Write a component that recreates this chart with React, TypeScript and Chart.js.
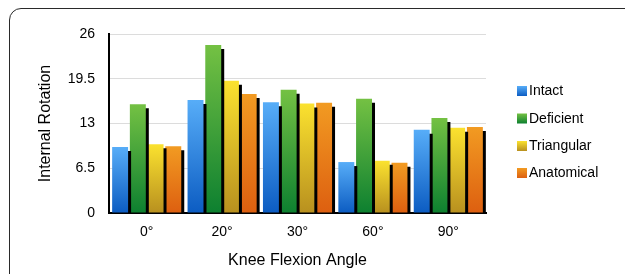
import React, { useEffect, useRef } from "react";
import { Chart, registerables } from "chart.js";

Chart.register(...registerables);

const categories = ["0°", "20°", "30°", "60°", "90°"];
const seriesNames = ["Intact", "Deficient", "Triangular", "Anatomical"];
const intact = [9.6, 16.4, 16.1, 7.4, 12.1];
const deficient = [15.8, 24.4, 17.9, 16.6, 13.8];
const triangular = [10.0, 19.2, 15.9, 7.6, 12.4];
const anatomical = [9.7, 17.3, 16.0, 7.3, 12.5];
const yTicks = [0, 6.5, 13, 19.5, 26];

const gradTop = ["#57adf8", "#74c143", "#fbe22f", "#f29b22"];
const gradBottom = ["#0c5cc2", "#0d8030", "#b8901f", "#dd5f10"];

const FONT = "'Liberation Sans', Arial, Helvetica, sans-serif";

function makeFill(idx: number) {
  return (c: any) => {
    const chart = c.chart;
    const area = chart.chartArea;
    if (!area || c.type !== "data" || !c.parsed) return gradTop[idx];
    const y = chart.scales.y;
    const yTop = y.getPixelForValue(c.parsed.y);
    const yBot = y.getPixelForValue(0);
    const g = chart.ctx.createLinearGradient(0, yTop, 0, yBot);
    g.addColorStop(0, gradTop[idx]);
    g.addColorStop(1, gradBottom[idx]);
    return g;
  };
}

const shadowPlugin = {
  id: "barShadow",
  beforeDatasetsDraw(chart: any) {
    const ctx = chart.ctx;
    ctx.save();
    ctx.shadowColor = "rgba(0,0,0,1)";
    ctx.shadowOffsetX = 3;
    ctx.shadowOffsetY = 4;
    ctx.shadowBlur = 0;
  },
  afterDatasetsDraw(chart: any) {
    chart.ctx.restore();
  },
};

const legendPlugin = {
  id: "sideLegend",
  afterDraw(chart: any) {
    const ctx = chart.ctx;
    ctx.save();
    const x = 517;
    const centers = [91, 118.5, 146, 173];
    seriesNames.forEach((name, i) => {
      const cy = centers[i];
      const g = ctx.createLinearGradient(0, cy - 5, 0, cy + 5);
      g.addColorStop(0, gradTop[i]);
      g.addColorStop(1, gradBottom[i]);
      ctx.fillStyle = g;
      ctx.fillRect(x, cy - 5, 10, 10);
      ctx.fillStyle = "#000";
      ctx.font = `14px ${FONT}`;
      ctx.textBaseline = "middle";
      ctx.textAlign = "left";
      ctx.fillText(name, x + 12, cy + 0.5);
    });
    ctx.restore();
  },
};

export default function App() {
  const ref = useRef<HTMLCanvasElement | null>(null);

  useEffect(() => {
    if (!ref.current) return;
    Chart.defaults.font.family = FONT;
    const series = [intact, deficient, triangular, anatomical];
    const chart = new Chart(ref.current, {
      type: "bar",
      data: {
        labels: categories,
        datasets: series.map((d, i) => ({
          label: seriesNames[i],
          data: d,
          backgroundColor: makeFill(i),
          borderWidth: 0,
          categoryPercentage: 0.94,
          barPercentage: 0.9,
          clip: { left: 5, top: 5, right: 5, bottom: 0 } as any,
        })),
      },
      options: {
        responsive: false,
        animation: false,
        layout: { padding: { top: 34, right: 139, bottom: 0, left: 0 } },
        plugins: {
          legend: { display: false },
          tooltip: { enabled: false },
        },
        scales: {
          x: {
            grid: { display: false, drawTicks: false },
            border: { display: true, color: "#000", width: 2 },
            ticks: { color: "#000", font: { size: 14, family: FONT }, padding: 11 },
            title: {
              display: true,
              text: "Knee Flexion Angle",
              color: "#000",
              font: { size: 16, family: FONT },
              padding: { top: 0, bottom: 4 },
            },
            afterFit: (s: any) => {
              s.height = 61;
            },
          },
          y: {
            min: 0,
            max: 26,
            afterBuildTicks: (s: any) => {
              s.ticks = yTicks.map((v) => ({ value: v }));
            },
            grid: { color: "#dcdcdc", lineWidth: 1, drawTicks: false },
            border: { display: true, color: "#000", width: 2 },
            ticks: {
              color: "#000",
              font: { size: 14, family: FONT },
              padding: 14,
              callback: (v: any) => String(v),
            },
            title: {
              display: true,
              text: "Internal Rotation",
              color: "#000",
              font: { size: 16, family: FONT },
              padding: { top: 36, bottom: 0 },
            },
            afterFit: (s: any) => {
              s.width = 109;
            },
          },
        },
      },
      plugins: [shadowPlugin, legendPlugin],
    });
    return () => chart.destroy();
  }, []);

  return (
    <div
      style={{
        position: "fixed",
        left: 0,
        top: 0,
        width: 625,
        height: 274,
        overflow: "hidden",
        background: "#fff",
      }}
    >
      <div
        style={{
          position: "absolute",
          left: 9,
          top: 8,
          width: 700,
          height: 400,
          border: "1.5px solid #2a2a2a",
          borderRadius: 12,
          boxSizing: "border-box",
        }}
      />
      <canvas
        ref={ref}
        width={625}
        height={274}
        style={{ position: "absolute", left: 0, top: 0, width: 625, height: 274, display: "block" }}
      />
    </div>
  );
}
